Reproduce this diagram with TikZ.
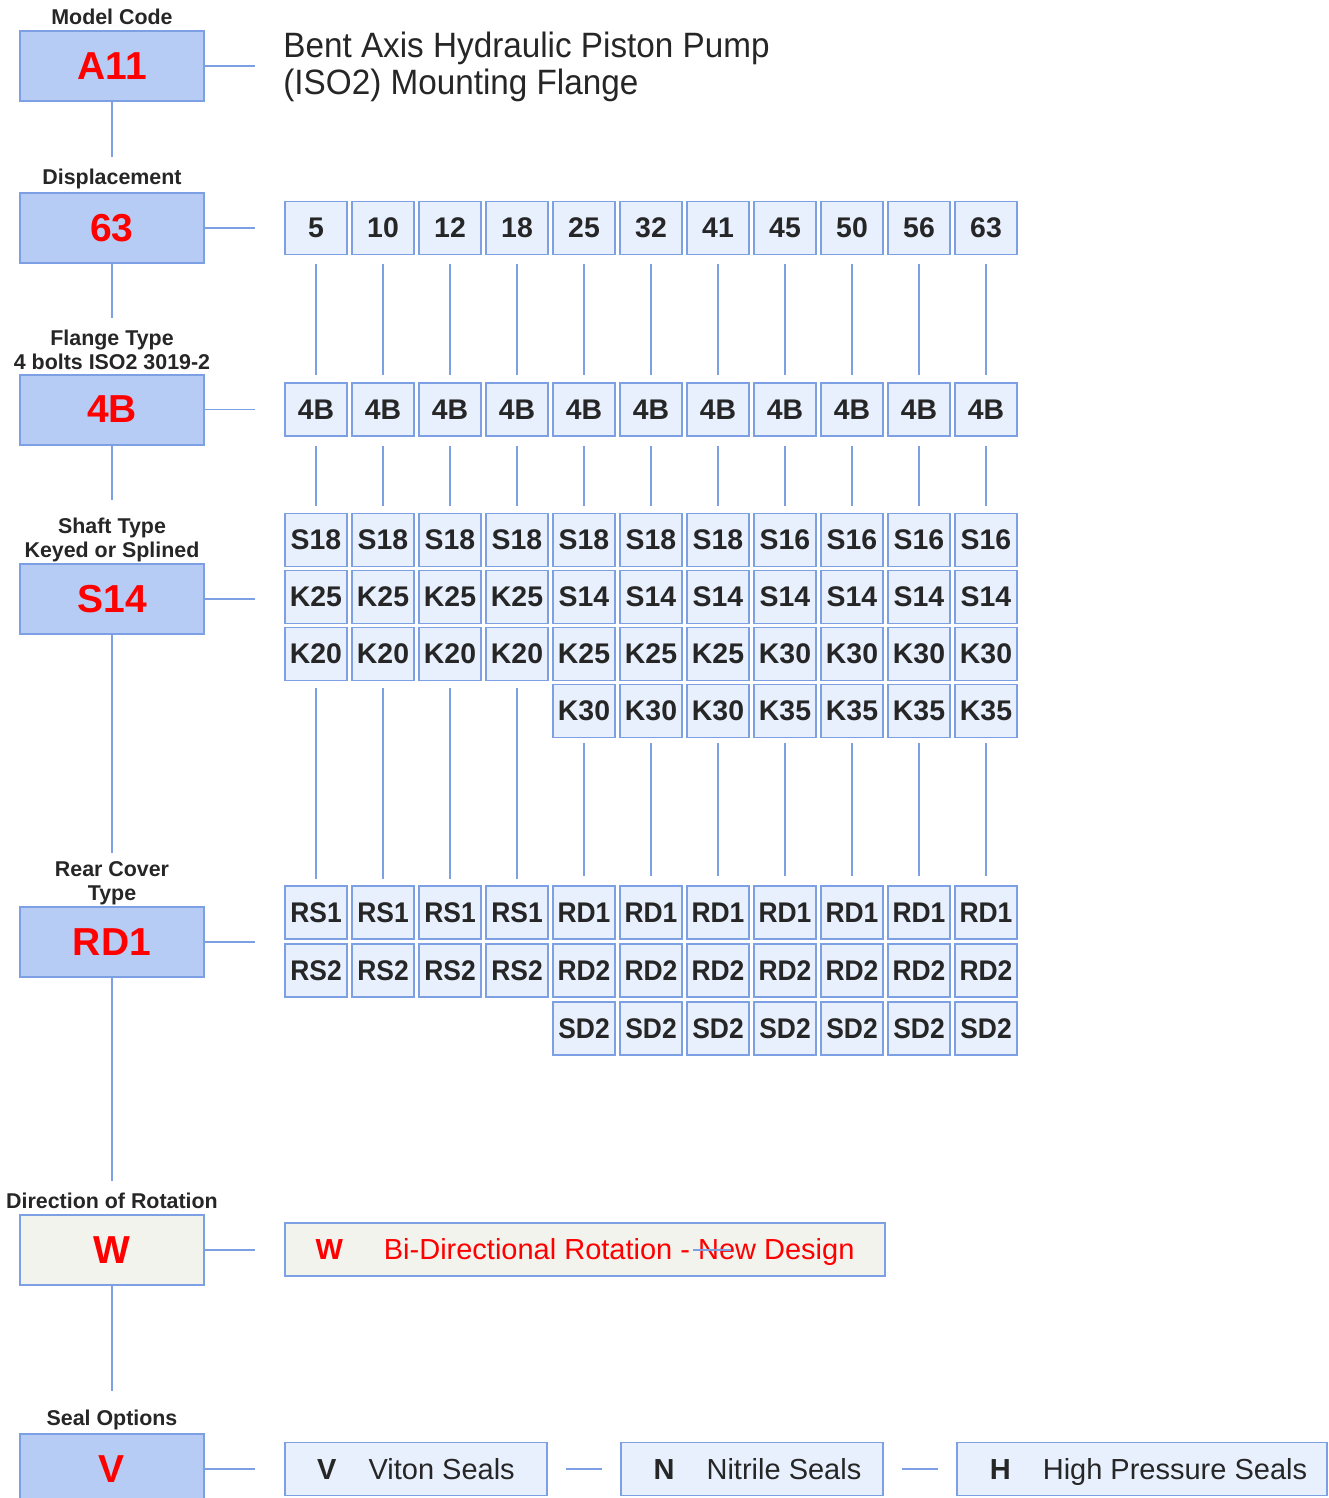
\documentclass[tikz,border=0pt]{standalone}
\usepackage{fontspec}
\setmainfont{Liberation Sans}
\definecolor{lineblue}{RGB}{125,160,228}
\definecolor{keyfill}{RGB}{183,204,244}
\definecolor{cellfill}{RGB}{232,240,254}
\definecolor{wfill}{RGB}{243,243,238}
\definecolor{txt}{RGB}{38,38,38}
\definecolor{redtxt}{RGB}{255,0,0}
\begin{document}
\begin{tikzpicture}[x=0.5pt,y=-0.5pt,
  conn/.style={draw=lineblue, line width=0.8pt},
  keybox/.style={draw=lineblue, fill=keyfill, line width=1pt, minimum width=92pt, minimum height=35pt, inner sep=0pt, font=\fontsize{19.5}{22}\selectfont\bfseries, text=redtxt},
  caption/.style={font=\fontsize{10.7}{12}\selectfont\bfseries, text=txt, align=center, inner sep=0pt},
  cell/.style={draw=lineblue, fill=cellfill, line width=0.8pt, minimum width=31pt, minimum height=26.5pt, inner sep=0pt, font=\fontsize{14.2}{16}\selectfont\bfseries, text=txt},
  widebox/.style={draw=lineblue, line width=0.8pt, minimum height=26.5pt, inner sep=0pt, text height=10.4pt, text depth=0pt, font=\fontsize{14.5}{16}\selectfont, text=txt},
  titletxt/.style={anchor=base west, inner sep=0pt, text=txt, font=\fontsize{17.6}{20}\selectfont}]
\useasboundingbox (0,0) rectangle (1328,1498);
\fill[white] (0,0) rectangle (1328,1498);

% Left column key boxes
\node[keybox] (mc) at (112,66) {A11};
\node[keybox] (dp) at (112,228) {63};
\node[keybox] (fl) at (112,409.5) {4B};
\node[keybox] (sh) at (112,599) {S14};
\node[keybox] (rc) at (112,942) {RD1};
\node[keybox, fill=wfill] (dr) at (112,1250) {W};
\node[keybox] (so) at (112,1469) {V};

% Captions
\node[caption] (capmc) at (112,17) {Model Code};
\node[caption] (capdp) at (112,179) {Displacement};
\node[caption] (capfl) at (112,350) {Flange Type\\4 bolts ISO2 3019-2};
\node[caption] (capsh) at (112,540) {Shaft Type\\Keyed or Splined};
\node[caption] (caprc) at (112,883) {Rear Cover\\Type};
\node[caption] (capdr) at (112,1201) {Direction of Rotation};
\node[caption] (capso) at (112,1420) {Seal Options};

% Vertical connectors left column
\coordinate (v1) at (112,157);
\coordinate (v2) at (112,318);
\coordinate (v3) at (112,500);
\coordinate (v4) at (112,853);
\coordinate (v5) at (112,1181);
\coordinate (v6) at (112,1391);
\draw[conn] (mc.south) -- (v1);
\draw[conn] (dp.south) -- (v2);
\draw[conn] (fl.south) -- (v3);
\draw[conn] (sh.south) -- (v4);
\draw[conn] (rc.south) -- (v5);
\draw[conn] (dr.south) -- (v6);

% Horizontal stubs
\coordinate (h1) at (255,66);
\coordinate (h2) at (255,228);
\coordinate (h3) at (255,409.5);
\coordinate (h4) at (255,599);
\coordinate (h5) at (255,942);
\coordinate (h6) at (255,1250);
\coordinate (h7) at (255,1469);
\draw[conn] (mc.east) -- (h1);
\draw[conn] (dp.east) -- (h2);
\draw[conn] (fl.east) -- (h3);
\draw[conn] (sh.east) -- (h4);
\draw[conn] (rc.east) -- (h5);
\draw[conn] (dr.east) -- (h6);
\draw[conn] (so.east) -- (h7);

% Title
\node[titletxt] (title1) at (283,58) {\scalebox{0.945}[1]{Bent Axis Hydraulic Piston Pump}};
\node[titletxt] (title2) at (283,95) {\scalebox{0.945}[1]{(ISO2) Mounting Flange}};

% Displacement row
\foreach \v [count=\i] in {5,10,12,18,25,32,41,45,50,56,63}
  \node[cell] (d\i) at ({316+67*(\i-1)},228) {\v};
% Flange row
\foreach \i in {1,...,11}
  \node[cell] (f\i) at ({316+67*(\i-1)},409.5) {4B};
% Shaft rows
\foreach \v [count=\i] in {S18,S18,S18,S18,S18,S18,S18,S16,S16,S16,S16}
  \node[cell] (sa\i) at ({316+67*(\i-1)},540) {\v};
\foreach \v [count=\i] in {K25,K25,K25,K25,S14,S14,S14,S14,S14,S14,S14}
  \node[cell] (sb\i) at ({316+67*(\i-1)},597) {\v};
\foreach \v [count=\i] in {K20,K20,K20,K20,K25,K25,K25,K30,K30,K30,K30}
  \node[cell] (sc\i) at ({316+67*(\i-1)},654) {\v};
\foreach \v [count=\j] in {K30,K30,K30,K35,K35,K35,K35}
  \node[cell] (sd\the\numexpr\j+4\relax) at ({316+67*(\j+3)},711) {\v};
% Rear cover rows
\foreach \v [count=\i] in {RS1,RS1,RS1,RS1,RD1,RD1,RD1,RD1,RD1,RD1,RD1}
  \node[cell] (ra\i) at ({316+67*(\i-1)},912.5) {\scalebox{0.93}[1]{\v}};
\foreach \v [count=\i] in {RS2,RS2,RS2,RS2,RD2,RD2,RD2,RD2,RD2,RD2,RD2}
  \node[cell] (rb\i) at ({316+67*(\i-1)},970.5) {\scalebox{0.93}[1]{\v}};
\foreach \j in {5,...,11}
  \node[cell] (rd\j) at ({316+67*(\j-1)},1028.5) {\scalebox{0.93}[1]{SD2}};

% Grid connectors
\foreach \i in {1,...,11} {
  \draw[conn, shorten <=4.5pt, shorten >=3.5pt] (d\i.south) -- (f\i.north);
  \draw[conn, shorten <=4.5pt, shorten >=3.5pt] (f\i.south) -- (sa\i.north);
}
\foreach \i in {1,...,4}
  \draw[conn, shorten <=3.5pt, shorten >=3pt] (sc\i.south) -- (ra\i.north);
\foreach \i in {5,...,11}
  \draw[conn, shorten <=2.5pt, shorten >=4.5pt] (sd\i.south) -- (ra\i.north);

% Direction of rotation
\node[widebox, fill=wfill, minimum width=300pt, text=redtxt] (wb) at (585,1249.5) {{\bfseries W}\hspace{20.5pt}Bi-Directional Rotation - New Design};
\coordinate (s1) at (693,1250);
\coordinate (s2) at (731,1250);
\draw[conn] (s1) -- (s2);

% Seal options
\node[widebox, fill=cellfill, minimum width=131pt] (sv) at (416,1469) {{\bfseries V}\hspace{16pt}Viton Seals};
\node[widebox, fill=cellfill, minimum width=131pt] (sn) at (752,1469) {\hspace*{5.5pt}{\bfseries N}\hspace{16pt}Nitrile Seals};
\node[widebox, fill=cellfill, minimum width=185pt] (shp) at (1142,1469) {\hspace*{6.5pt}{\bfseries H}\hspace{16pt}High Pressure Seals};
\draw[conn, shorten <=9pt, shorten >=9pt] (sv.east) -- (sn.west);
\draw[conn, shorten <=9pt, shorten >=9pt] (sn.east) -- (shp.west);
\end{tikzpicture}
\end{document}
